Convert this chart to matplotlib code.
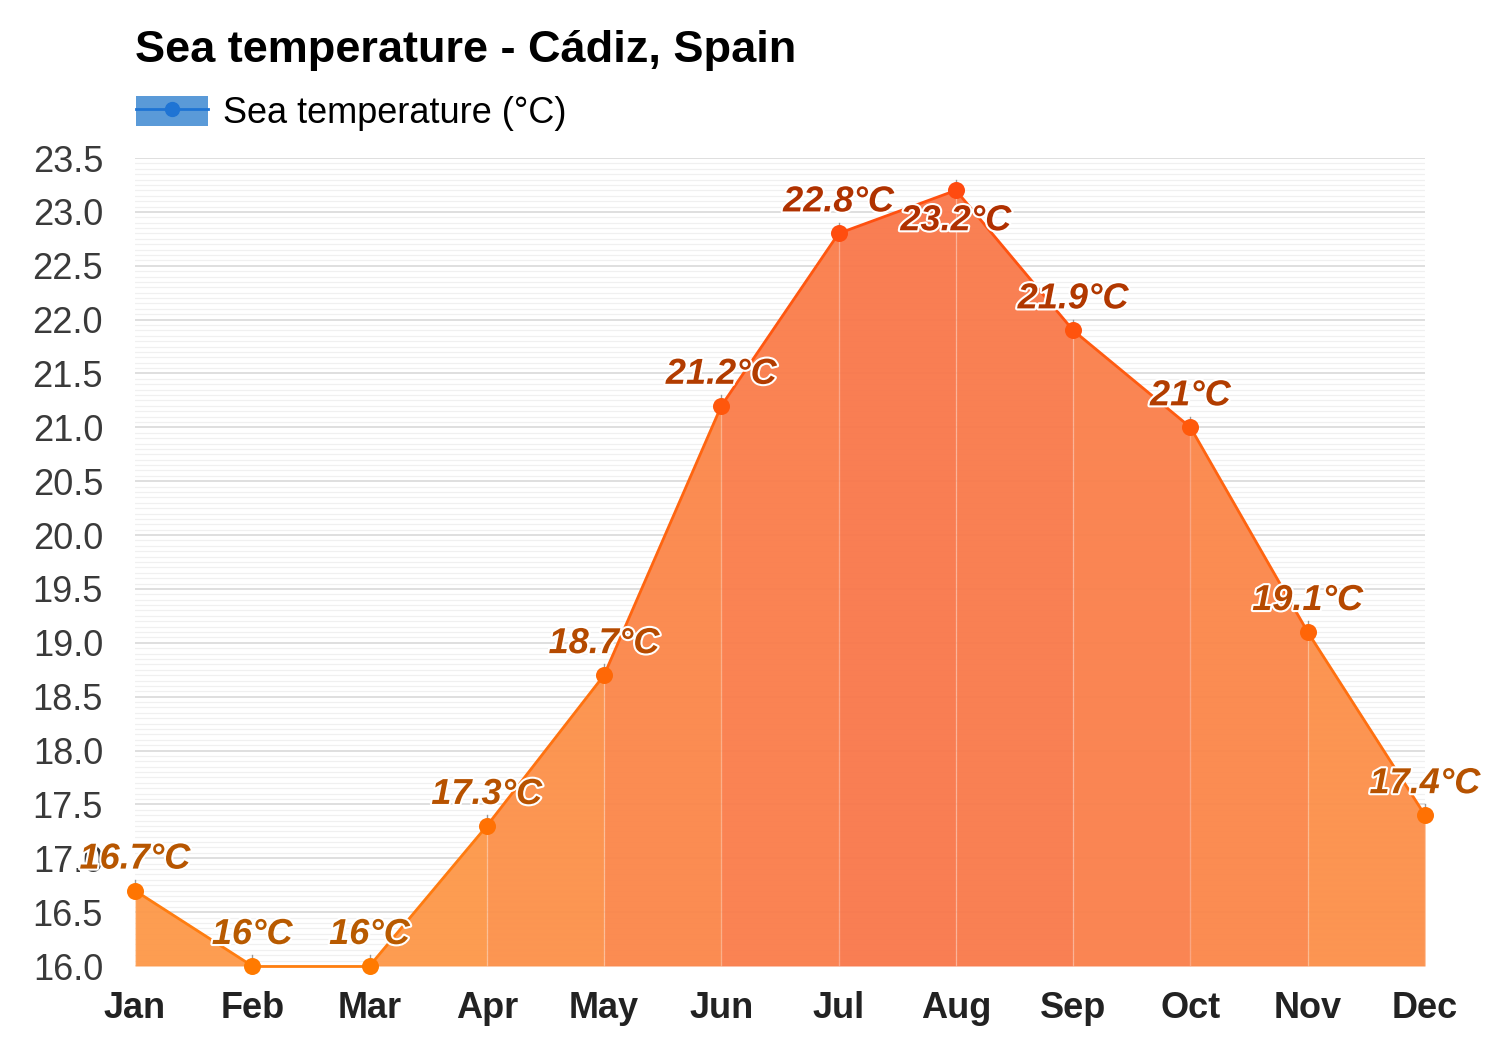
import numpy as np
import matplotlib.pyplot as plt
import matplotlib.patheffects as pe
from matplotlib.patches import Patch
from matplotlib.lines import Line2D
from matplotlib.colors import to_rgb

plt.rcParams['font.family'] = ['Liberation Sans', 'DejaVu Sans']

months = ["Jan", "Feb", "Mar", "Apr", "May", "Jun", "Jul", "Aug", "Sep", "Oct", "Nov", "Dec"]
sea_temp = [16.7, 16.0, 16.0, 17.3, 18.7, 21.2, 22.8, 23.2, 21.9, 21.0, 19.1, 17.4]
labels = ["16.7°C", "16°C", "16°C", "17.3°C", "18.7°C", "21.2°C", "22.8°C",
          "23.2°C", "21.9°C", "21°C", "19.1°C", "17.4°C"]
yticks = np.arange(16.0, 23.51, 0.5)

tmin, tmax = 16.0, 23.2
ymax = 23.5


def mix(c1, c2, t):
    a, b = np.array(to_rgb(c1)), np.array(to_rgb(c2))
    return tuple(a + (b - a) * t)


def frac(v):
    return min(max((v - tmin) / (tmax - tmin), 0), 1)


fig = plt.figure(figsize=(15, 10.5), dpi=100)
fig.patch.set_facecolor("white")
ax = fig.add_axes([0.09, 0.08, 0.86, 0.7695])

x = np.arange(len(months))

# filled area, one colour per segment
for i in range(len(x) - 1):
    t = frac((sea_temp[i] + sea_temp[i + 1]) / 2)
    ax.fill_between(x[i:i + 2], sea_temp[i:i + 2], 16.0,
                    color=mix("#fd9a48", "#f9764a", t), alpha=0.95, lw=0, zorder=2)
    ax.plot(x[i:i + 2], sea_temp[i:i + 2], color=mix("#ff7f10", "#ff4f10", t),
            lw=2, zorder=3, solid_capstyle="round", clip_on=False)

# faint verticals at each month inside the fill
for xi, v in zip(x, sea_temp):
    ax.plot([xi, xi], [16.0, v], color="white", alpha=0.25, lw=1, zorder=2.5)

for xi, v, lab in zip(x, sea_temp, labels):
    t = frac(v)
    ax.plot([xi, xi], [v, v + 0.1], color="#999999", lw=1, zorder=3.5, clip_on=False)
    ax.scatter([xi], [v], s=150, color=mix("#ff7a00", "#ff4a10", t), zorder=4,
               lw=0, clip_on=False)
    # no room above -> label goes under the point
    if v + 0.45 > ymax:
        ty, va = v - 0.12, "top"
    else:
        ty, va = v + 0.13, "bottom"
    ax.text(xi, ty, lab, ha="center", va=va, fontsize=26,
            fontweight="bold", fontstyle="italic",
            color=mix("#b85a00", "#b03000", t), zorder=5,
            path_effects=[pe.withStroke(linewidth=3, foreground="white")])

ax.set_xlim(0, 11)
ax.set_ylim(16.0, ymax)
ax.set_yticks(yticks)
ax.set_yticklabels([f"{v:.1f}" for v in yticks])
ax.set_yticks(np.arange(16.0, 23.51, 0.05), minor=True)
ax.grid(axis="y", which="major", color="#dcdcdc", lw=1.3, zorder=0)
ax.grid(axis="y", which="minor", color="#f0f0f0", lw=0.9, zorder=0)
ax.set_axisbelow(True)
ax.set_xticks(x)
ax.set_xticklabels(months, fontsize=26, fontweight="bold", color="#222222")
ax.tick_params(axis="y", labelsize=26, labelcolor="#3a3a3a", length=0, pad=23)
ax.tick_params(axis="x", length=0, pad=18)
ax.tick_params(which="minor", length=0)
for s in ax.spines.values():
    s.set_visible(False)

fig.text(0.09, 0.952, "Sea temperature - Cádiz, Spain", fontsize=32.5,
         fontweight="bold", color="black", va="center", ha="left")

handle = (Patch(facecolor="#5a9ad8", edgecolor="none"),
          Line2D([], [], color="#1f74d4", lw=2, marker="o", markersize=10))
leg = fig.legend([handle], ["Sea temperature (°C)"], loc="center left",
                 bbox_to_anchor=(0.069, 0.892), frameon=False, fontsize=26,
                 handlelength=2.0, handleheight=0.9, handletextpad=0.42)

fig.savefig("out.png", dpi=100, facecolor="white")
